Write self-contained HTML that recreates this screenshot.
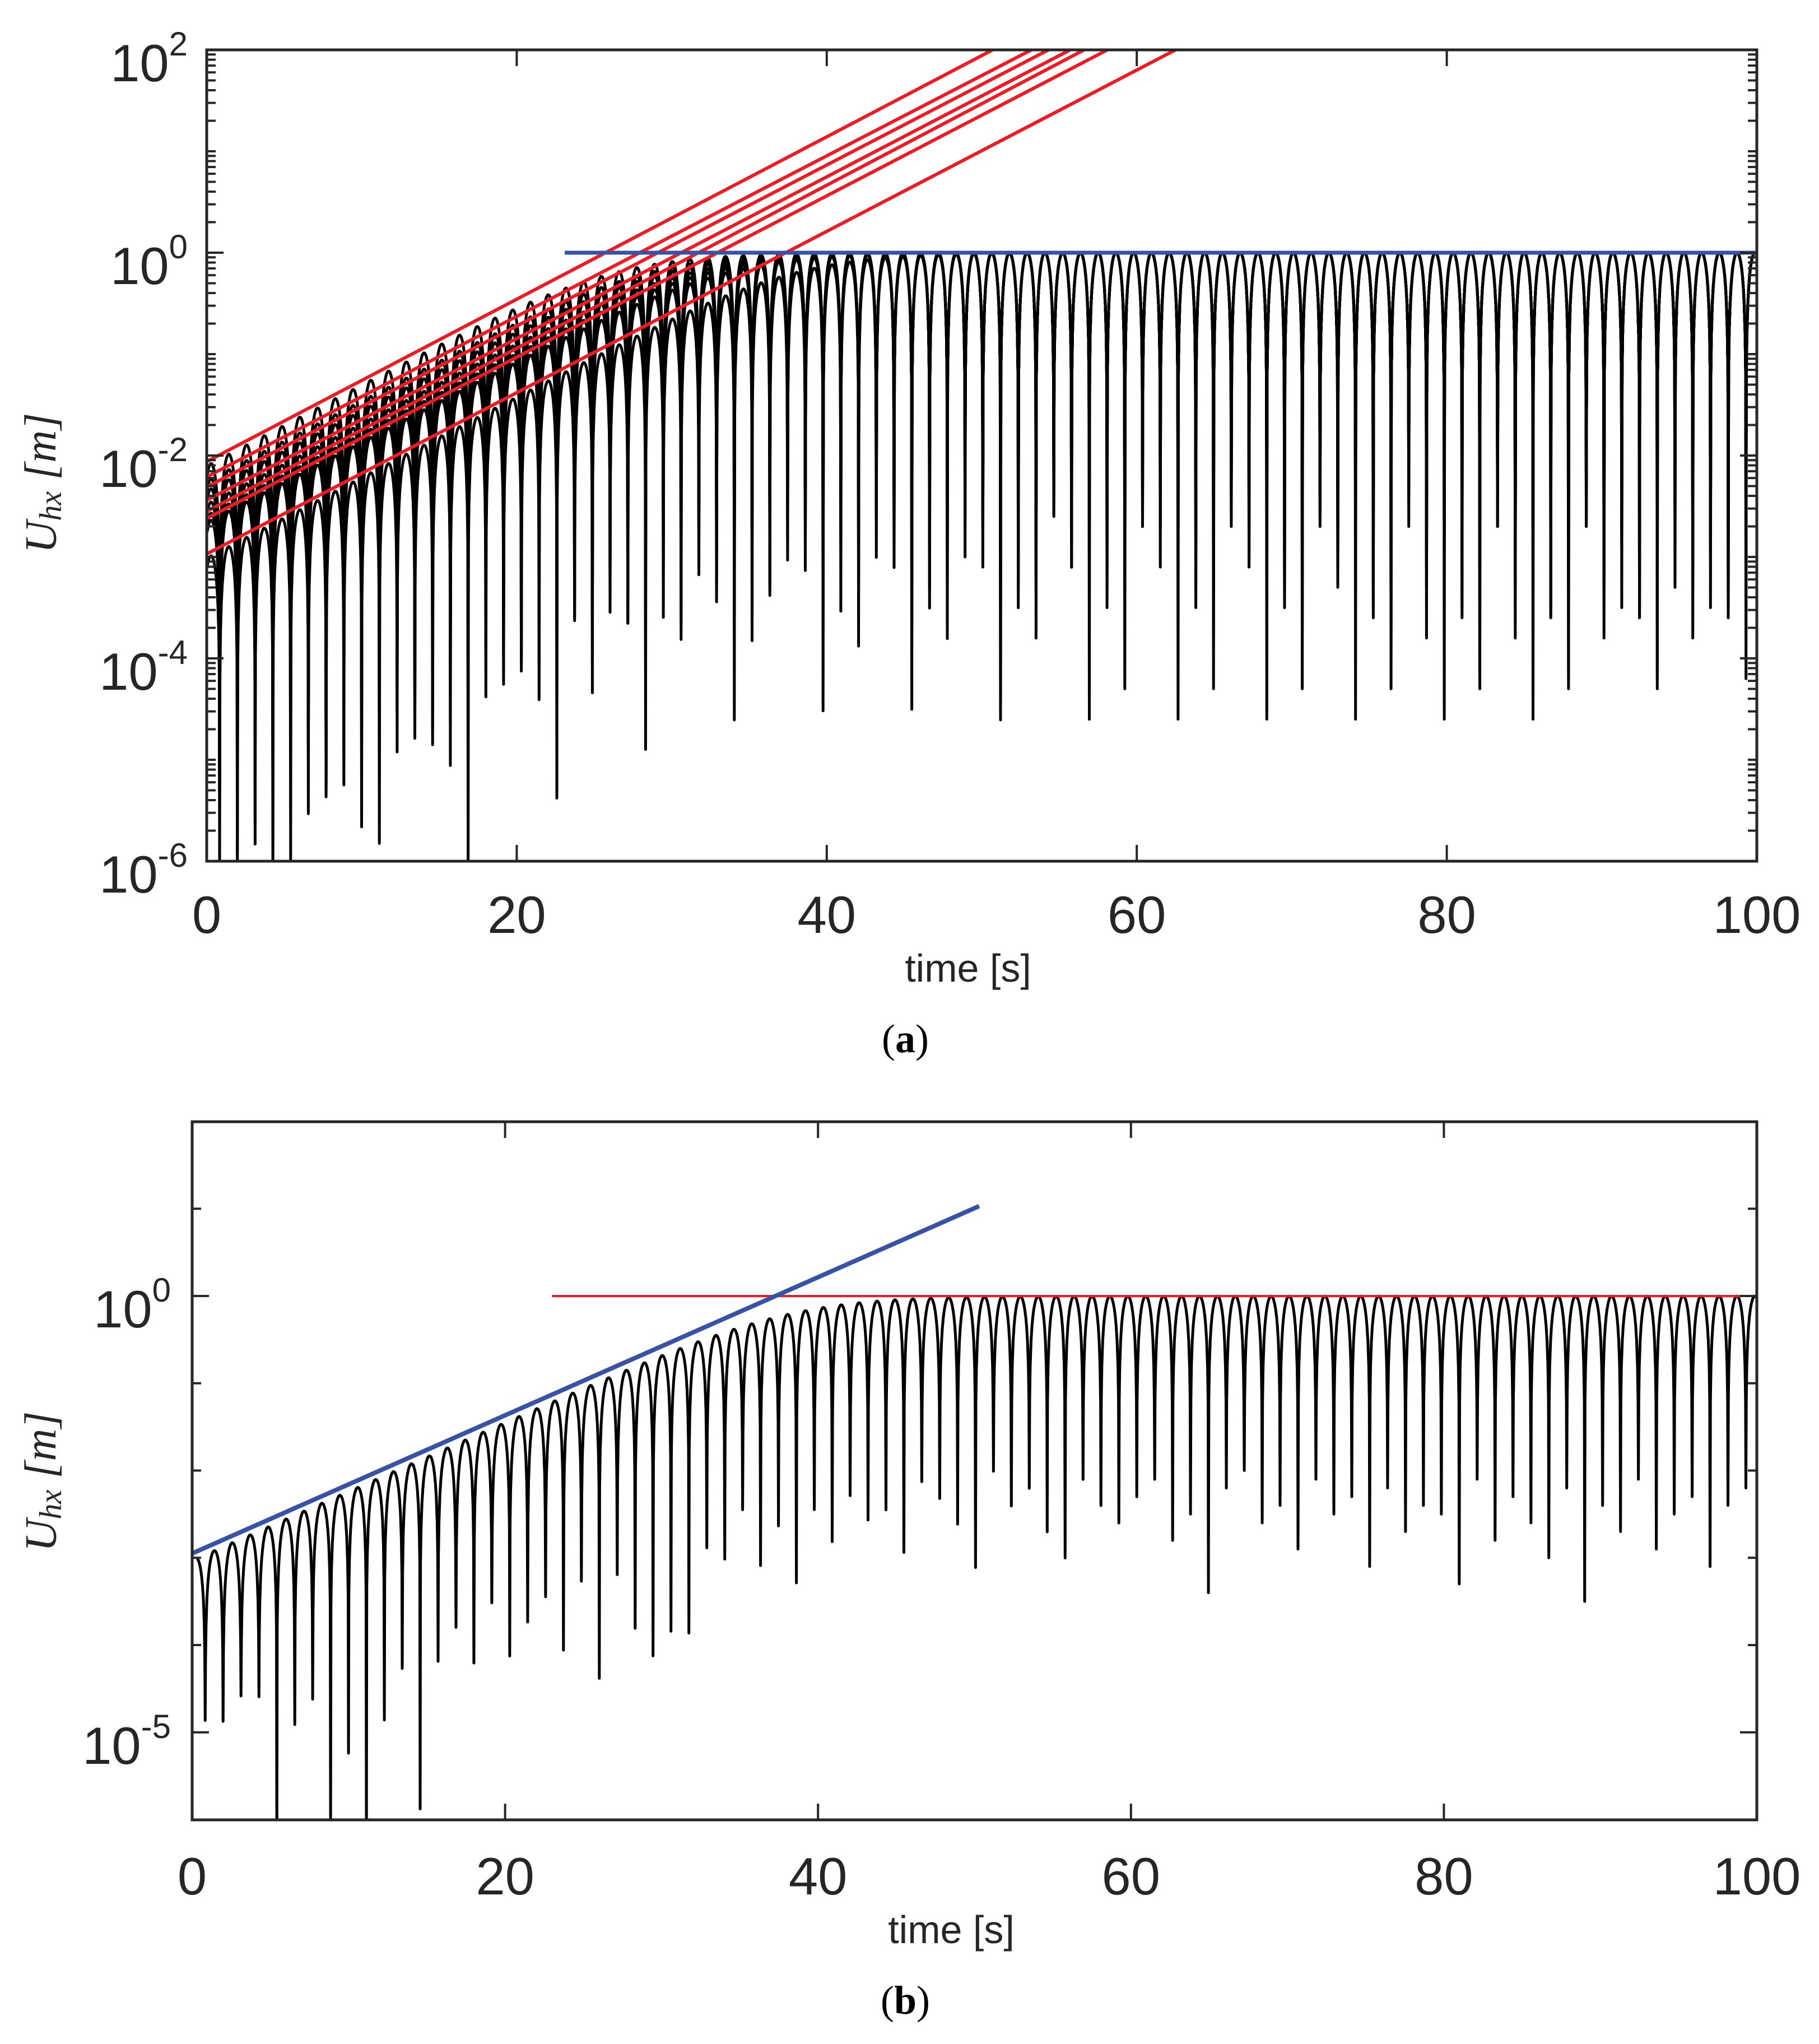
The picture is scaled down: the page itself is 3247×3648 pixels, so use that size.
<!DOCTYPE html>
<html><head><meta charset="utf-8"><style>
html,body{margin:0;padding:0;background:#fff;}
svg{display:block;}
</style></head><body>
<svg id="fig" width="3247" height="3648" viewBox="0 0 3247 3648" xmlns="http://www.w3.org/2000/svg">
<defs>
<clipPath id="clipA"><rect x="369" y="89" width="2767" height="1448"/></clipPath>
<clipPath id="clipB"><rect x="343" y="2002" width="2793" height="1246"/></clipPath>
</defs>
<g id="panelA">
  <g id="seriesA" clip-path="url(#clipA)"></g>
  <rect x="369" y="89" width="2767" height="1448" fill="none" stroke="#262626" stroke-width="5"/>
  <g id="ticksA"></g>
  <text x="81" y="862" transform="rotate(-90 81 862)" text-anchor="middle" dominant-baseline="middle" font-family="Liberation Serif, serif" font-style="italic" font-size="80" fill="#262626">U<tspan font-size="56" dy="15">hx</tspan><tspan dy="-15"> [m]</tspan></text>
  <text x="1728" y="1752" text-anchor="middle" font-family="Liberation Sans, sans-serif" font-size="70" fill="#262626">time [s]</text>
  <text x="1616" y="1878" text-anchor="middle" font-family="Liberation Serif, serif" font-size="72" fill="#000">(<tspan font-weight="bold">a</tspan>)</text>
</g>
<g id="panelB">
  <g id="seriesB" clip-path="url(#clipB)"></g>
  <rect x="343" y="2002" width="2793" height="1246" fill="none" stroke="#262626" stroke-width="5"/>
  <g id="ticksB"></g>
  <text x="81" y="2644" transform="rotate(-90 81 2644)" text-anchor="middle" dominant-baseline="middle" font-family="Liberation Serif, serif" font-style="italic" font-size="80" fill="#262626">U<tspan font-size="56" dy="15">hx</tspan><tspan dy="-15"> [m]</tspan></text>
  <text x="1698" y="3468" text-anchor="middle" font-family="Liberation Sans, sans-serif" font-size="70" fill="#262626">time [s]</text>
  <text x="1616" y="3594" text-anchor="middle" font-family="Liberation Serif, serif" font-size="72" fill="#000">(<tspan font-weight="bold">b</tspan>)</text>
</g>
</svg>
<script>
// ---- data ----
var xTicks = [0, 20, 40, 60, 80, 100];
var yTicksA = [-6, -4, -2, 0, 2];
var yTicksB = [-5, 0];
var halfPeriod = 1.145;           // s, spacing between peaks of |U|
var firstZero = -0.3125;          // s, a zero crossing of U
// panel (a): red exponential fits, log10 value at t=0 and time they reach 10^2
var redStartLog = [-2.06, -2.21, -2.31, -2.44, -2.55, -2.62, -2.97];
var redEndTime  = [50.7, 53.2, 54.3, 55.7, 56.6, 58.1, 62.5];
var blueLevelA = 0, blueStartA = 23.1, blueEndA = 100;
// panel (b): blue fit line and red saturation level
var blueStartLogB = -2.95, blueEndLogB = 1.03, blueEndTimeB = 50.3;
var redLevelB = 0, redStartB = 23.0, redEndB = 100;
// trough depth (log10 below the local envelope) per half-cycle
var troughA = [-2.4,-3.1,-2.1,-3.5,-2.7,-2.3,-3.3,-2.8,-3.6,-2.5,-2.2,-3.8,-2.9,-2.5,-4.2,-2.7,-3.2,-2.4,-3.6,-3.0,-2.3,-2.9,-3.5,-2.2,-2.7,-3.3,-2.5,-3.0,-2.1,-3.4,-2.8,-2.4,-3.2,-2.0,-2.7,-3.4,-2.3,-2.9,-2.2,-2.6,-3.7,-2.5,-2.1,-3.0,-2.4,-4.5,-2.8,-2.2,-2.6,-3.1,-1.9,-2.5,-3.3,-2.3,-2.7,-2.1,-2.9,-3.2,-2.4,-2.0,-2.8,-3.5,-2.3,-2.6,-2.2,-3.0,-2.5,-3.8,-2.1,-2.7,-2.4,-3.3,-2.9,-2.2,-2.6,-4.6,-2.3,-2.8,-2.1,-3.1,-2.5,-2.3,-4.3,-2.7,-2.2,-2.9,-2.4,-1.8];
var troughB = [-3.6,-1.9,-2.0,-1.8,-1.9,-3.8,-2.4,-2.2,-3.7,-3.0,-4.2,-2.8,-2.3,-4.0,-2.4,-2.1,-2.6,-2.0,-2.7,-2.4,-2.2,-2.9,-2.2,-3.4,-2.3,-3.0,-3.4,-3.2,-3.3,-2.4,-2.6,-2.1,-2.8,-2.4,-3.1,-2.3,-2.7,-2.2,-2.5,-2.4,-2.9,-2.1,-2.3,-2.6,-3.1,-2.0,-2.4,-2.2,-2.7,-3.0,-2.1,-2.4,-2.6,-2.3,-2.1,-2.8,-2.5,-3.4,-2.2,-2.0,-2.6,-2.4,-2.9,-2.1,-2.5,-2.3,-3.1,-2.2,-2.7,-2.4,-2.5,-3.3,-2.1,-2.8,-2.3,-2.6,-3.0,-2.2,-3.5,-2.4,-2.7,-2.1,-2.9,-2.5,-2.3,-3.1,-2.4,-2.2];

// ---- axes ----
function XA(t){ return 369 + t * 27.67; }
function YA(l){ return 451 - 181 * l; }
function XB(t){ return 343 + t * 27.93; }
function YB(l){ return 2313 - 155.75 * l; }
var NS = 'http://www.w3.org/2000/svg';
function mk(tag, attrs, parent){
  var e = document.createElementNS(NS, tag);
  for (var k in attrs) e.setAttribute(k, attrs[k]);
  parent.appendChild(e); return e;
}
function soft(line){ return line - Math.log10(1 + Math.pow(10, 1.5 * line)) / 1.5; }
var sSteps = [0,0.02,0.05,0.1,0.15,0.2,0.25,0.3,0.35,0.4,0.45,0.5,0.55,0.6,0.65,0.7,0.75,0.8,0.85,0.9,0.95,0.98];
function buildSignal(envFn, depth, shift, t0, X, Y){
  var d = '', first = true;
  for (var k = 0; ; k++){
    var z = firstZero + k * halfPeriod;
    if (z > 100) break;
    for (var i = 0; i < sSteps.length; i++){
      var s = sSteps[i], t = z + s * halfPeriod;
      if (t < t0 || t > 100) continue;
      var env = envFn(t), dp = depth[(k + shift) % depth.length];
      var v = (s === 0) ? env + dp : Math.max(env + Math.log10(Math.sin(Math.PI * s)), env + dp);
      if (v < -7) v = -7;
      d += (first ? 'M' : 'L') + X(t).toFixed(1) + ',' + Y(v).toFixed(1);
      first = false;
    }
  }
  return d;
}

// ---- panel a ----
var gA = document.getElementById('seriesA');
redStartLog.forEach(function(l0, i){
  var slope = (2 - l0) / redEndTime[i];
  var d = buildSignal(function(t){ return soft(l0 + slope * t - 0.04); }, troughA, i * 5, 0, XA, YA);
  var p = mk('path', {d: d, fill: 'none', stroke: '#000', 'stroke-width': 5, 'stroke-linejoin': 'round'}, gA);
  
  
});
redStartLog.forEach(function(l0, i){
  var ln = mk('line', {x1: XA(0), y1: YA(l0), x2: XA(redEndTime[i]), y2: YA(2), stroke: '#ed1c24', 'stroke-width': 6}, gA);
  
  
});
var blA = mk('line', {x1: XA(blueStartA), y1: YA(blueLevelA), x2: XA(blueEndA), y2: YA(blueLevelA), stroke: '#3953a4', 'stroke-width': 7}, gA);



// ---- panel b ----
var gB = document.getElementById('seriesB');
var slopeB = (blueEndLogB - blueStartLogB) / blueEndTimeB;
var dB = buildSignal(function(t){ return soft(blueStartLogB + slopeB * t - 0.08); }, troughB, 0, 0.3, XB, YB);
var pB = mk('path', {d: dB, fill: 'none', stroke: '#000', 'stroke-width': 5, 'stroke-linejoin': 'round'}, gB);


var rB = mk('line', {x1: XB(redStartB), y1: YB(redLevelB), x2: XB(redEndB), y2: YB(redLevelB), stroke: '#ed1c24', 'stroke-width': 4}, gB);


var bB = mk('line', {x1: XB(0), y1: YB(blueStartLogB), x2: XB(blueEndTimeB), y2: YB(blueEndLogB), stroke: '#3953a4', 'stroke-width': 8}, gB);



// ---- ticks ----
function tickSet(g, X, Y, x0, x1, y0, y1, majorY, minorY, labelRight, xLabelBase, name){
  xTicks.forEach(function(v){
    mk('line', {x1: X(v), y1: y1, x2: X(v), y2: y1 - 29, stroke: '#262626', 'stroke-width': 4}, g);
    mk('line', {x1: X(v), y1: y0, x2: X(v), y2: y0 + 29, stroke: '#262626', 'stroke-width': 4}, g);
    var t = mk('text', {x: X(v), y: xLabelBase, 'text-anchor': 'middle', 'font-family': 'Liberation Sans, sans-serif', 'font-size': 94, fill: '#262626'}, g);
    t.textContent = String(v);
    
    
  });
  minorY.forEach(function(l){
    mk('line', {x1: x0, y1: Y(l), x2: x0 + 16, y2: Y(l), stroke: '#262626', 'stroke-width': 4}, g);
    mk('line', {x1: x1, y1: Y(l), x2: x1 - 16, y2: Y(l), stroke: '#262626', 'stroke-width': 4}, g);
  });
  majorY.forEach(function(l){
    mk('line', {x1: x0, y1: Y(l), x2: x0 + 30, y2: Y(l), stroke: '#262626', 'stroke-width': 4}, g);
    mk('line', {x1: x1, y1: Y(l), x2: x1 - 30, y2: Y(l), stroke: '#262626', 'stroke-width': 4}, g);
    var t = mk('text', {x: labelRight, y: Y(l) + 56, 'text-anchor': 'end', 'font-family': 'Liberation Sans, sans-serif', 'font-size': 94, fill: '#262626'}, g);
    
    
    var a = mk('tspan', {}, t); a.textContent = '10';
    var b = mk('tspan', {'font-size': 60, dy: -46}, t); b.textContent = String(l);
  });
}
var minorA = [];
for (var n = -6; n < 2; n++) for (var m = 1; m <= 9; m++){
  var l = n + Math.log10(m);
  if (m === 1 && yTicksA.indexOf(n) >= 0) continue;
  minorA.push(l);
}
tickSet(document.getElementById('ticksA'), XA, YA, 369, 3136, 89, 1537, yTicksA, minorA, 335, 1665, 'panel-a');
var minorB = [];
for (var n2 = -5; n2 <= 1; n2++) if (yTicksB.indexOf(n2) < 0) minorB.push(n2);
tickSet(document.getElementById('ticksB'), XB, YB, 343, 3136, 2002, 3248, yTicksB, minorB, 305, 3381, 'panel-b');
</script>
</body></html>
